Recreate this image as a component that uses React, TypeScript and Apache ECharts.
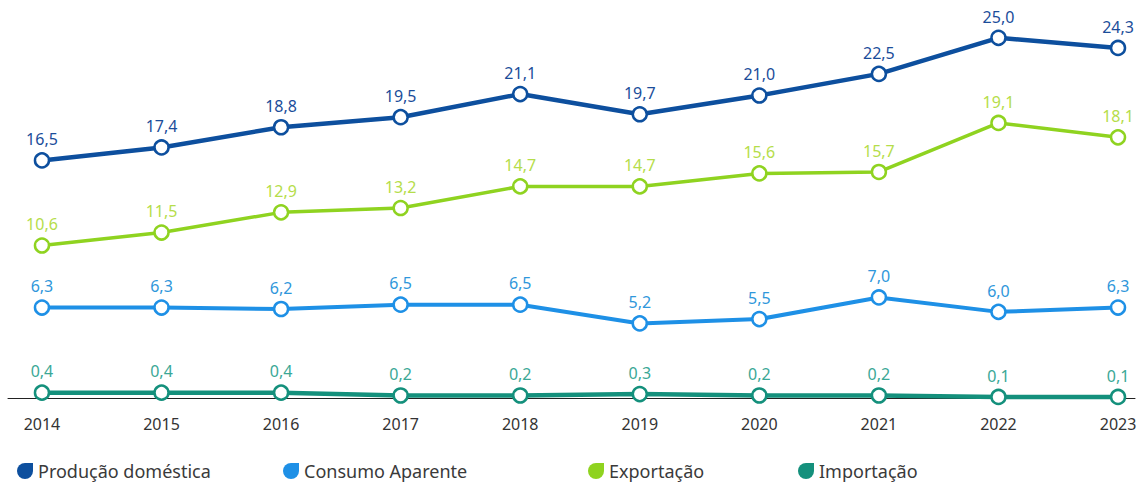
import React, { useEffect, useRef } from "react";
import * as echarts from "echarts";

const years = [2014, 2015, 2016, 2017, 2018, 2019, 2020, 2021, 2022, 2023];
const producao = [16.5, 17.4, 18.8, 19.5, 21.1, 19.7, 21.0, 22.5, 25.0, 24.3];
const consumo = [6.3, 6.3, 6.2, 6.5, 6.5, 5.2, 5.5, 7.0, 6.0, 6.3];
const exportacao = [10.6, 11.5, 12.9, 13.2, 14.7, 14.7, 15.6, 15.7, 19.1, 18.1];
const importacao = [0.4, 0.4, 0.4, 0.2, 0.2, 0.3, 0.2, 0.2, 0.1, 0.1];

const seriesNames = ["Produção doméstica", "Consumo Aparente", "Exportação", "Importação"];

const FONT = "'Noto Sans', sans-serif";
const leaf = "path://M8,0 L16,0 L16,8 A8,8 0 1,1 8,0 Z";

function makeSeries(name: string, values: number[], line: string, label: string, width: number) {
  return {
    name,
    type: "line",
    data: years.map((y, i) => [y, values[i]]),
    symbol: "circle",
    symbolSize: 14,
    lineStyle: { color: line, width },
    itemStyle: { color: "#ffffff", borderColor: line, borderWidth: 2.5 },
    label: {
      show: true,
      position: "top",
      distance: 5,
      color: label,
      fontSize: 16,
      fontFamily: FONT,
      formatter: (p: any) => p.value[1].toFixed(1).replace(".", ","),
    },
  };
}

export default function App() {
  const ref = useRef<HTMLDivElement>(null);
  useEffect(() => {
    document.body.style.margin = "0";
    const chart = echarts.init(ref.current!, null, { renderer: "svg" });
    const legendBase = {
      bottom: 6,
      itemWidth: 16,
      itemHeight: 16,
      icon: leaf,
      textStyle: { color: "#3a3a3a", fontSize: 18, fontFamily: FONT },
      itemGap: 10,
    };
    const colors = ["#0d4f9e", "#1e90e6", "#8fd320", "#14907c"];
    const lefts = [12, 278, 583, 793];
    chart.setOption({
      animation: false,
      backgroundColor: "#ffffff",
      color: colors,
      grid: { left: 8, right: 13, top: 9, bottom: 92.6 },
      legend: seriesNames.map((n, i) => ({
        ...legendBase,
        left: lefts[i],
        data: [{ name: n, itemStyle: { color: colors[i], borderWidth: 0 } }],
      })),
      xAxis: {
        type: "value",
        min: 2013.716,
        max: 2023.142,
        splitLine: { show: false },
        axisTick: { show: false },
        axisLine: { show: true, onZero: false, lineStyle: { color: "#222222", width: 1 } },
        axisLabel: {
          customValues: years,
          formatter: (v: number) => String(v),
          color: "#333333",
          fontSize: 16,
          fontFamily: FONT,
          margin: 18,
        },
      },
      yAxis: {
        type: "value",
        min: 0,
        max: 27,
        show: false,
      },
      series: [
        makeSeries(seriesNames[0], producao, "#0d4f9e", "#1b4d9a", 4.5),
        makeSeries(seriesNames[1], consumo, "#1e90e6", "#2f97db", 4),
        makeSeries(seriesNames[2], exportacao, "#8fd320", "#b5dd4a", 3.5),
        makeSeries(seriesNames[3], importacao, "#14907c", "#3ba896", 4.5),
      ],
    });
    return () => chart.dispose();
  }, []);
  return <div ref={ref} style={{ width: 1148, height: 491 }} />;
}
